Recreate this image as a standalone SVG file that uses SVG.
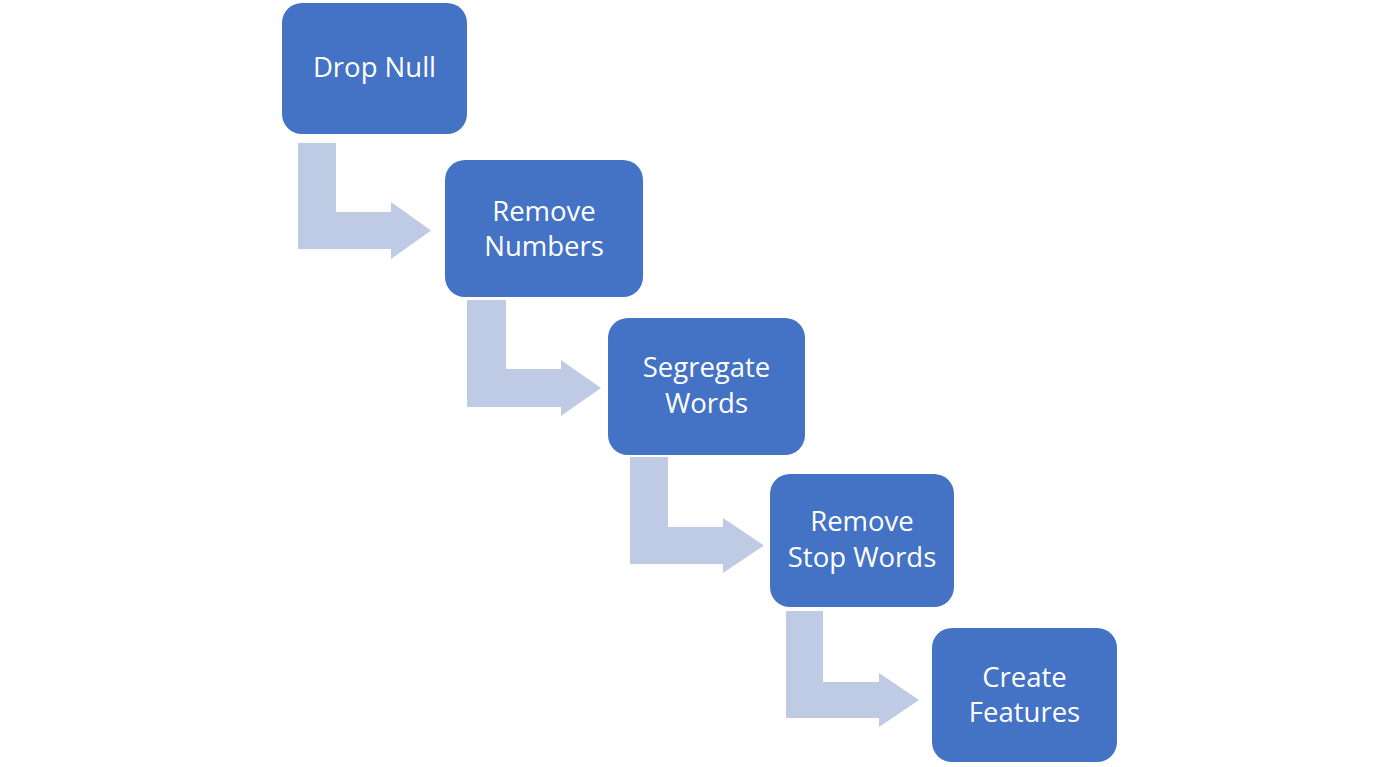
<svg xmlns="http://www.w3.org/2000/svg" width="1400" height="767" viewBox="0 0 1400 767">
<style>
.box{fill:#4472C4;}
.lbl{fill:#FFFFFF;font-family:"Open Sans","Noto Sans",sans-serif;font-size:27.5px;text-anchor:middle;}
.arr{fill:#BFCAE4;}
</style>
<rect width="1400" height="767" fill="#FFFFFF"/>
<g id="connectors">
<polygon class="arr" points="298,143 336,143 336,212 391,212 391,202 431,230.5 391,259 391,249 298,249"/>
<polygon class="arr" points="467,300 506,300 506,369 561,369 561,360 601,388 561,416 561,407 467,407"/>
<polygon class="arr" points="630,457 668,457 668,527 723,527 723,518 764,545.5 723,573 723,564 630,564"/>
<polygon class="arr" points="786,611 823,611 823,682 879,682 879,673 919,700 879,727 879,718 786,718"/>
</g>
<g id="node-drop-null">
<rect class="box" x="282" y="3" width="185" height="131" rx="20"/>
<text class="lbl" x="374.5" y="77">Drop Null</text>
</g>
<g id="node-remove-numbers">
<rect class="box" x="445" y="160" width="198" height="137" rx="20"/>
<text class="lbl" x="544" y="221">Remove</text>
<text class="lbl" x="544" y="256">Numbers</text>
</g>
<g id="node-segregate-words">
<rect class="box" x="608" y="318" width="197" height="137" rx="20"/>
<text class="lbl" x="706.5" y="377">Segregate</text>
<text class="lbl" x="706.5" y="413">Words</text>
</g>
<g id="node-remove-stop-words">
<rect class="box" x="770" y="474" width="184" height="133" rx="20"/>
<text class="lbl" x="862" y="531">Remove</text>
<text class="lbl" x="862" y="567">Stop Words</text>
</g>
<g id="node-create-features">
<rect class="box" x="932" y="628" width="185" height="134" rx="20"/>
<text class="lbl" x="1024.5" y="687">Create</text>
<text class="lbl" x="1024.5" y="722">Features</text>
</g>
</svg>
